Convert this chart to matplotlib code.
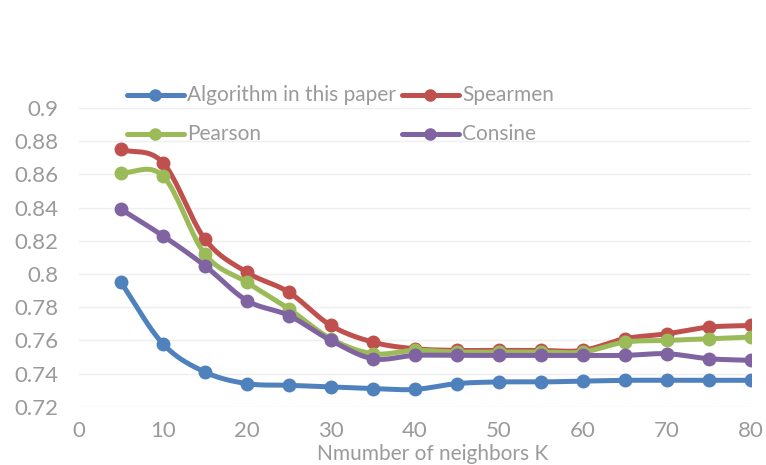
import numpy as np
import matplotlib
matplotlib.use("Agg")
import matplotlib.pyplot as plt
from matplotlib.lines import Line2D

plt.rcParams['font.family'] = ['Lato', 'DejaVu Sans']

k = [5, 10, 15, 20, 25, 30, 35, 40, 45, 50, 55, 60, 65, 70, 75, 80]
algo = [0.795, 0.758, 0.741, 0.734, 0.733, 0.732, 0.731, 0.7305, 0.734, 0.735,
        0.735, 0.7355, 0.736, 0.736, 0.736, 0.736]
spearmen = [0.875, 0.867, 0.821, 0.801, 0.789, 0.769, 0.759, 0.755, 0.754, 0.754,
            0.754, 0.754, 0.761, 0.764, 0.768, 0.769]
pearson = [0.861, 0.859, 0.812, 0.795, 0.779, 0.761, 0.752, 0.754, 0.753, 0.753,
           0.753, 0.753, 0.759, 0.760, 0.761, 0.762]
consine = [0.839, 0.823, 0.805, 0.784, 0.775, 0.760, 0.749, 0.751, 0.751, 0.751,
           0.751, 0.751, 0.751, 0.752, 0.749, 0.748]

names = ["Algorithm in this paper", "Spearmen", "Pearson", "Consine"]
colors = ["#4F81BD", "#C0504D", "#9BBB59", "#8064A2"]
series = [algo, spearmen, pearson, consine]
ytick_labels = ["0.72", "0.74", "0.76", "0.78", "0.8", "0.82", "0.84", "0.86", "0.88", "0.9"]


def smooth(x, y, n=20):
    # catmull-rom through the points, like excel "smoothed line"
    x = np.asarray(x, float)
    y = np.asarray(y, float)
    px = np.concatenate([[2 * x[0] - x[1]], x, [2 * x[-1] - x[-2]]])
    py = np.concatenate([[2 * y[0] - y[1]], y, [2 * y[-1] - y[-2]]])
    xs, ys = [], []
    t = np.linspace(0, 1, n, endpoint=False)
    for i in range(1, len(px) - 2):
        for p, out in ((px, xs), (py, ys)):
            p0, p1, p2, p3 = p[i - 1], p[i], p[i + 1], p[i + 2]
            out.extend(0.5 * (2 * p1 + (-p0 + p2) * t
                              + (2 * p0 - 5 * p1 + 4 * p2 - p3) * t ** 2
                              + (-p0 + 3 * p1 - 3 * p2 + p3) * t ** 3))
    xs.append(x[-1])
    ys.append(y[-1])
    return xs, ys


fig = plt.figure(figsize=(7.66, 4.65), dpi=100)
ax = fig.add_axes([0.103, 0.125, 0.877, 0.643])

for i in [0, 3, 2, 1]:
    sx, sy = smooth(k, series[i])
    ax.plot(sx, sy, color=colors[i], lw=3.6, solid_capstyle='round', zorder=2 + i)
    ax.plot(k, series[i], 'o', color=colors[i], ms=9, zorder=2 + i)

ax.set_xlim(0, 80)
ax.set_ylim(0.72, 0.9)
ax.set_xticks(range(0, 81, 10))
ax.set_yticks(np.arange(0.72, 0.901, 0.02))
ax.set_yticklabels(ytick_labels)
ax.grid(axis='y', color='#EFEFEF', lw=1)
ax.set_axisbelow(True)
for s in ax.spines.values():
    s.set_visible(False)
ax.tick_params(length=0, labelsize=16, colors='#9A9A9A')
ax.tick_params(axis='x', pad=10)
ax.tick_params(axis='y', pad=15)

fig.text(433 / 766, 1 - 454 / 465, "Nmumber of neighbors K", ha='center', va='center',
         fontsize=15, color='#9A9A9A')

# legend, two rows x two columns
pos = [(127, 95), (402, 95), (127, 134), (402, 134)]
for i, (px, py) in enumerate(pos):
    yf = 1 - py / 465
    fig.add_artist(Line2D([px / 766, (px + 57) / 766], [yf, yf], color=colors[i], lw=3.6,
                          solid_capstyle='round', transform=fig.transFigure))
    fig.add_artist(Line2D([(px + 28) / 766], [yf], marker='o', ms=8, color=colors[i],
                          transform=fig.transFigure))
    fig.text((px + 60) / 766, yf, names[i], ha='left', va='center', fontsize=15,
             color='#9A9A9A')

fig.savefig("out.png", dpi=100)
